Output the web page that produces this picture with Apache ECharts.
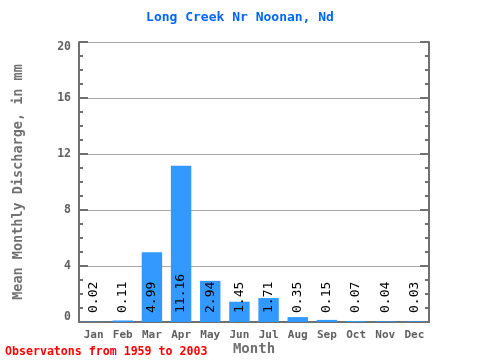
<!DOCTYPE html>
<html><head><meta charset="utf-8">
<script src="https://cdn.jsdelivr.net/npm/echarts@6/dist/echarts.min.js"></script>
<style>html,body{margin:0;padding:0;background:#fff}#c{width:480px;height:360px}</style>
</head><body><div id="c"></div>
<script>
const months = ["Jan","Feb","Mar","Apr","May","Jun","Jul","Aug","Sep","Oct","Nov","Dec"];
const values = [0.02,0.11,4.99,11.16,2.94,1.45,1.71,0.35,0.15,0.07,0.04,0.03];
const yTicks = [0,4,8,12,16,20];
const titleText = "Long Creek Nr Noonan, Nd";
const footerText = "Observatons from 1959 to 2003";
const mono = "DejaVu Sans Mono";
const axisCol = "#707070";
const yMin = yTicks[0], yMax = yTicks[yTicks.length-1];
const lblStyle = {fontFamily:mono,fontSize:11.5,fontWeight:'bold',color:'#606060'};
const chart = echarts.init(document.getElementById('c'), null, {renderer:'canvas'});
chart.setOption({
  animation:false,
  backgroundColor:'#fff',
  title:[
    {text:titleText,left:'center',top:11,padding:0,textStyle:{fontFamily:mono,fontSize:13,fontWeight:'bold',color:'#0066ff'}},
    {text:footerText,left:5,top:346,padding:0,textStyle:{fontFamily:mono,fontSize:11.6,fontWeight:'bold',color:'#ff0000'}}
  ],
  grid:{left:79,right:51,top:42,bottom:38,containLabel:false,outerBoundsMode:'none'},
  xAxis:[
    {type:'category',data:months,position:'bottom',
     name:'Month',nameLocation:'middle',nameGap:20,nameMoveOverlap:false,
     nameTextStyle:{fontFamily:mono,fontSize:14,fontWeight:'bold',color:axisCol},
     axisLine:{lineStyle:{color:axisCol,width:2}},
     axisTick:{inside:true,length:9,lineStyle:{color:axisCol,width:2}},
     axisLabel:{fontFamily:mono,fontSize:11,fontWeight:'bold',color:'#606060',margin:8}},
    {type:'category',data:months,position:'top',
     axisLine:{lineStyle:{color:axisCol,width:2}},
     axisTick:{inside:true,length:9,lineStyle:{color:axisCol,width:2}},
     axisLabel:{show:false}}
  ],
  yAxis:[
    {type:'value',min:yMin,max:yMax,interval:4,position:'left',
     name:'Mean Monthly Discharge, in mm',nameLocation:'middle',nameGap:54,nameMoveOverlap:false,
     nameTextStyle:{fontFamily:mono,fontSize:13.5,fontWeight:'bold',color:axisCol},
     axisLine:{show:true,lineStyle:{color:axisCol,width:2}},
     axisTick:{show:true,inside:true,length:9,lineStyle:{color:axisCol,width:2}},
     minorTick:{show:true,splitNumber:4,length:4,lineStyle:{color:axisCol,width:2}},
     splitLine:{show:true,lineStyle:{color:'#aaaaaa',width:1}},
     axisLabel:Object.assign({margin:8,
       formatter:v=> v===yMax ? '{top|'+v+'}' : (v===yMin ? '{bot|'+v+'}' : String(v)),
       rich:{top:Object.assign({padding:[10,0,0,0]},lblStyle),bot:Object.assign({padding:[0,0,10,0]},lblStyle)}
     },lblStyle)},
    {type:'value',min:yMin,max:yMax,interval:4,position:'right',
     axisLine:{show:true,lineStyle:{color:axisCol,width:2}},
     axisTick:{show:true,inside:true,length:9,lineStyle:{color:axisCol,width:2}},
     minorTick:{show:true,splitNumber:4,length:4,lineStyle:{color:axisCol,width:2}},
     splitLine:{show:false},
     axisLabel:{show:false}}
  ],
  series:[{
    type:'bar',data:values,barWidth:'70%',
    itemStyle:{color:'#3399ff'}
  },{
    type:'custom',data:values.map((v,i)=>[i,v]),z:5,
    renderItem:function(params,api){
      const p = api.coord([api.value(0),0]);
      return {type:'text',x:p[0],y:p[1]-9,rotation:Math.PI/2,
        style:{text:api.value(1).toFixed(2),align:'left',verticalAlign:'middle',
          fontFamily:mono,fontSize:13,fill:'#000'}};
    }
  }]
});
</script></body></html>
